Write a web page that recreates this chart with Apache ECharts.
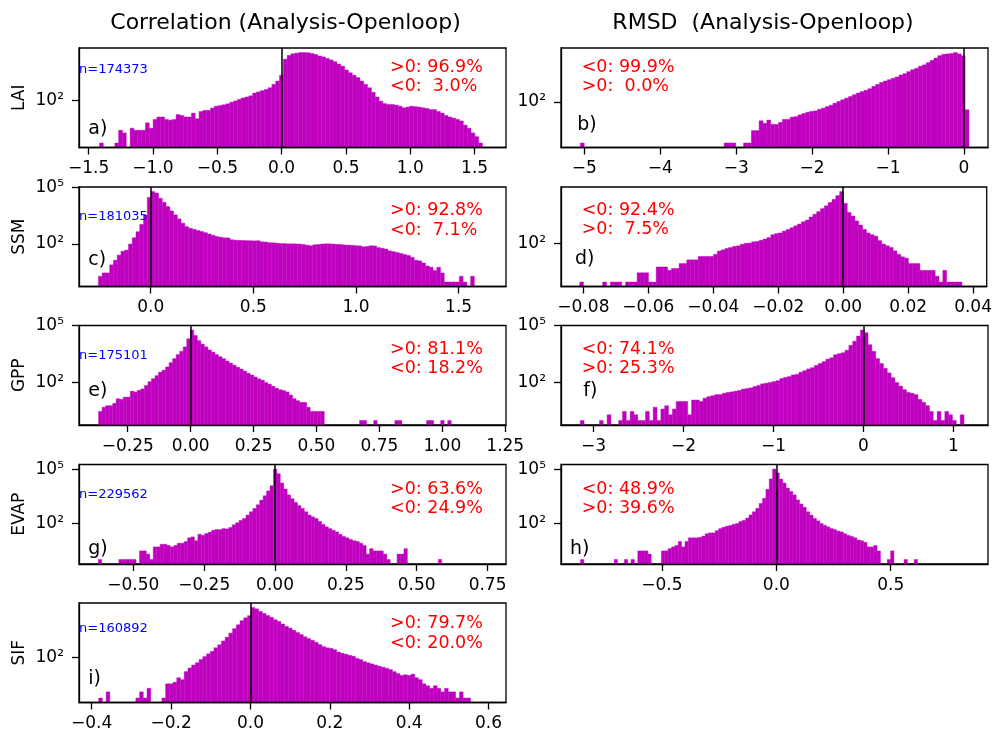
<!DOCTYPE html>
<html>
<head>
<meta charset="utf-8">
<script src="https://cdn.jsdelivr.net/npm/echarts@6/dist/echarts.min.js"></script>
<style>
html,body{margin:0;padding:0;background:#fff;}
#chart{width:995px;height:734px;}
</style>
</head>
<body>
<div id="chart"></div>
<script>
// ---------------- DATA (histogram counts, 100 bins per panel) ----------------
const laiCorrCounts = [1,0,0,0,1,4,3,0,5,4, 4,4,9,5,13,17,17,13,12,13, 22,20,17,17,26,14,31,35,35,45, 55,59,64,71,85,98,115,135,150,170,
  230,260,300,340,410,590,850,1590,9200,14000, 16500,17800,19000,19000,18500,17200,15500,13000,11800,10000,
  8500,7000,5400,4300,2850,2100,1600,1230,850,590, 410,250,150,95,73,66,66,62,55,46,
  50,55,52,50,46,43,38,38,31,26, 20,17,15,13,11,7,5,3,2,1];
const laiRmsdCounts = [1,0,0,0,0,0,0,0,0,0, 0,0,0,0,0,0,0,0,0,0, 0,0,0,0,0,0,0,0,0,0, 0,0,0,0,0,0,0,1,1,1,
  0,0,1,1,4,4,12,9,13,8, 8,10,14,14,18,19,23,27,31,34, 36,43,49,58,68,85,104,125,150,180,
  220,265,310,360,430,560,700,870,1020,1180, 1380,1600,2000,2300,2900,3600,4200,5300,6200,7900,
  10200,13300,17300,20000,21000,22000,24500,21000,17000,41];
const ssmCorrCounts = [2,3,3,8,14,26,42,48,100,215, 450,1100,3450,29000,59000,49000,26000,16000,9500,5600,
  3450,2130,1260,830,680,600,520,460,400,340, 290,250,230,215,210,170,160,158,155,152,
  150,148,150,132,128,118,117,112,107,106, 103,103,102,100,95,88,81,92,95,100,
  103,103,100,96,95,90,88,86,82,81, 72,75,81,80,65,60,55,44,40,36,
  32,28,25,20,14,13,10,7,6,4, 6,3,1,1,1,1,2,1,0,2];
const ssmRmsdCounts = [1,0,0,0,0,0,1,0,1,1, 1,0,1,1,1,3,3,3,1,1, 6,6,6,4,5,5,9,9,14,14,
  14,21,21,21,21,27,40,46,55,61, 70,74,90,100,103,120,126,145,167,200,
  280,320,345,430,520,640,800,1000,1300,1600, 2300,3200,4400,6300,8800,13000,19000,29500,48000,11700,
  4000,2600,1440,890,525,345,280,235,138,92, 75,61,41,27,20,17,9,9,9,4,
  4,4,4,2,1,4,1,1,1,1];
const gppCorrCounts = [3,5,6,6,8,14,13,17,17,35, 32,39,46,70,110,160,230,350,450,660,
  1120,1820,2950,4400,7500,20000,58000,30000,16000,10500, 7500,5200,4000,2950,2300,1800,1350,1050,820,640,
  510,400,310,250,195,155,132,100,82,64, 50,42,38,32,22,14,11,9,9,5,
  3,3,3,3,0,0,0,0,0,0, 0,0,0,0,1,1,0,0,1,0, 0,0,0,0,1,1,0,0,0,0, 0,0,0,1,1,0,0,1,0,1];
const gppRmsdCounts = [1,0,0,0,0,1,0,2,0,0, 1,3,1,3,2,1,1,3,1,5, 1,4,6,2,4,10,10,10,2,12,
  12,10,15,18,20,23,23,27,30,32, 35,38,45,48,52,62,70,85,92,100,
  112,125,162,185,205,250,270,350,420,520, 600,800,1000,1250,1700,2000,2900,3300,3700,5000,
  9100,15000,28000,58000,42000,9800,4400,1820,1000,560, 320,180,100,65,42,30,27,23,13,9,
  6,3,1,3,1,3,2,1,0,2];
const evapCorrCounts = [1,0,0,0,0,0,1,1,1,1, 1,0,3,3,2,1,5,5,7,7, 6,5,6,8,8,10,16,18,11,25,
  22,28,33,42,46,46,52,50,60,85, 110,150,190,295,450,690,1100,2000,3500,6500,
  12600,107000,59000,17800,8200,3900,2400,1500,1000,690, 450,295,235,190,130,90,65,52,42,34,
  25,19,16,13,11,10,8,6,2,4, 3,3,3,2,1,0,0,2,2,4, 0,0,0,0,0,0,0,0,0,1];
const evapRmsdCounts = [1,0,0,0,0,0,0,0,0,0, 1,0,0,1,0,1,0,3,3,3, 2,0,0,0,3,3,4,5,6,10,
  5,10,16,16,16,17,20,27,30,30, 40,52,62,71,78,91,100,130,150,200,
  300,450,700,1300,2500,8000,30000,107000,65000,29500, 17800,9300,6000,3900,2050,1220,800,450,295,190,
  141,100,80,65,52,46,38,34,27,22, 19,16,12,11,9,5,5,6,3,0, 0,1,3,0,0,0,1,0,0,1];
const sifCorrCounts = [1,0,2,0,0,0,0,0,0,0, 1,2,1,3,0,0,0,1,5,5, 6,10,8,20,30,42,55,80,110,150,
  200,300,420,650,1000,1590,2630,4100,6500,9000, 11500,29000,25000,18600,14800,11700,9500,7250,6000,4450,
  3400,2800,2200,1700,1350,1050,850,700,560,430, 340,300,280,240,185,162,145,128,115,90,
  78,62,54,48,42,37,33,29,25,20, 16,13,14,13,15,10,8,5,4,3, 4,3,2,3,2,2,1,2,1,1];

// bin definitions (left edge of the first bin and bin width), per panel a..i
const binStart = [-1.4158, -5.0526, -0.2552, -0.08113, -0.366, -3.148, -0.6238, -0.8559, -0.3824];
const binWidth = [0.02977, 0.05118, 0.01832, 0.001177, 0.014015, 0.04267, 0.01212, 0.01473, 0.009371];

// axis ranges and tick labels
const xMin = [-1.575, -5.307, -0.3496, -0.0869, -0.4437, -3.362, -0.6918, -0.941, -0.432];
const xMax = [1.744, 0.316, 1.731, 0.0442, 1.253, 1.386, 0.815, 0.925, 0.644];
const xTicksA = [-1.5, -1.0, -0.5, 0.0, 0.5, 1.0, 1.5];
const xTicksB = [-5, -4, -3, -2, -1, 0];
const xTicksC = [0.0, 0.5, 1.0, 1.5];
const xTicksD = [-0.08, -0.06, -0.04, -0.02, 0.0, 0.02, 0.04];
const xTicksE = [-0.25, 0.0, 0.25, 0.5, 0.75, 1.0, 1.25];
const xTicksF = [-3, -2, -1, 0, 1];
const xTicksG = [-0.5, -0.25, 0.0, 0.25, 0.5, 0.75];
const xTicksH = [-0.5, 0.0, 0.5];
const xTicksI = [-0.4, -0.2, 0.0, 0.2, 0.4, 0.6];
const xTickDecimals = [1, 0, 1, 2, 2, 0, 2, 1, 1];
const yTickValues = [100, 100000];

// texts
const columnTitles = ['Correlation (Analysis-Openloop)', 'RMSD  (Analysis-Openloop)'];
const rowNames = ['LAI', 'SSM', 'GPP', 'EVAP', 'SIF'];
const sampleSizes = ['n=174373', 'n=181035', 'n=175101', 'n=229562', 'n=160892'];
const statLines = [
  ['>0: 96.9%', '<0:  3.0%'], ['<0: 99.9%', '>0:  0.0%'],
  ['>0: 92.8%', '<0:  7.1%'], ['<0: 92.4%', '>0:  7.5%'],
  ['>0: 81.1%', '<0: 18.2%'], ['<0: 74.1%', '>0: 25.3%'],
  ['>0: 63.6%', '<0: 24.9%'], ['<0: 48.9%', '>0: 39.6%'],
  ['>0: 79.7%', '<0: 20.0%']
];
const panelLetters = ['a)', 'b)', 'c)', 'd)', 'e)', 'f)', 'g)', 'h)', 'i)'];

// ---------------- LAYOUT / STYLE ----------------
const allCounts = [laiCorrCounts, laiRmsdCounts, ssmCorrCounts, ssmRmsdCounts, gppCorrCounts, gppRmsdCounts, evapCorrCounts, evapRmsdCounts, sifCorrCounts];
const allTicks = [xTicksA, xTicksB, xTicksC, xTicksD, xTicksE, xTicksF, xTicksG, xTicksH, xTicksI];
const colLeft = [79, 561];
const gridW = 427;
const rowTop = [48, 187, 325.5, 464.5, 603];
const gridH = 99.5;
const FONT = 'DejaVu Sans';
const BAR = '#bf00bf';
const statPos = [[390, 67, 86.7], [581.7, 67.5, 86.7], [390, 210.5, 230], [581.7, 210, 229.5],
  [390, 349.5, 368.7], [581.7, 349.5, 368.3], [390, 489.2, 508.8], [581.7, 489.2, 508.8], [390, 623.5, 643]];
const nPosY = [70, 216.7, 355.3, 495, 628.5];
const letterPos = [[88.3, 129.5], [577.3, 125], [88.3, 260], [575, 259.2], [88.3, 391.2],
  [583.3, 391.2], [88.3, 548.8], [570, 549.2], [88.3, 678.8]];

const supDigits = {'0':'⁰','1':'¹','2':'²','3':'³','4':'⁴','5':'⁵','6':'⁶','7':'⁷','8':'⁸','9':'⁹'};
function supLabel(v) {
  const e = String(Math.round(Math.log10(v)));
  return '10' + e.split('').map(d => supDigits[d]).join('');
}
function fmtX(v, dec) {
  const s = Math.abs(v).toFixed(dec);
  return (v < 0 ? '\u2212' : '') + s;
}

const grids = [], xAxes = [], yAxes = [], series = [], graphics = [];
allCounts.forEach((counts, k) => {
  const col = k % 2, row = Math.floor(k / 2);
  grids.push({left: colLeft[col], top: rowTop[row], width: gridW, height: gridH,
    show: true, borderColor: '#000', borderWidth: 1.3, backgroundColor: 'rgba(0,0,0,0)', z: 0});
  const maxC = Math.max.apply(null, counts);
  const lm = Math.log10(maxC);
  const yMin = Math.pow(10, -0.05 * lm);
  const yMax = Math.pow(10, 1.05 * lm);
  const yT = yTickValues.filter(v => v >= yMin && v <= yMax);
  const tickStyle = {color: '#000', width: 1.3};
  xAxes.push({type: 'value', gridIndex: k, min: xMin[k], max: xMax[k], z: 10,
    splitLine: {show: false},
    axisLine: {show: true, onZero: false, lineStyle: tickStyle},
    axisTick: {show: true, length: 7, lineStyle: tickStyle, customValues: allTicks[k]},
    axisLabel: {customValues: allTicks[k], formatter: v => fmtX(v, xTickDecimals[k]),
      fontSize: 17, fontFamily: FONT, color: '#000', margin: 13}});
  yAxes.push({type: 'log', logBase: 10, gridIndex: k, min: yMin, max: yMax, z: 10,
    splitLine: {show: false}, minorTick: {show: false},
    axisLine: {show: true, onZero: false, lineStyle: tickStyle},
    axisTick: {show: true, length: 7, lineStyle: tickStyle, customValues: yT},
    axisLabel: {customValues: yT, formatter: v => supLabel(v), fontSize: 17, fontFamily: FONT, color: '#000', margin: 15}});
  const items = [];
  counts.forEach((c, i) => {
    if (c > 0) items.push([binStart[k] + i * binWidth[k], binStart[k] + (i + 1) * binWidth[k], c]);
  });
  series.push({type: 'custom', xAxisIndex: k, yAxisIndex: k, data: items, encode: {x: [0, 1], y: 2},
    renderItem: function (params, api) {
      const p0 = api.coord([api.value(0), api.value(2)]);
      const p1 = api.coord([api.value(1), api.value(2)]);
      const cs = params.coordSys;
      const bottom = cs.y + cs.height;
      return {type: 'rect', shape: {x: p0[0], y: p0[1], width: p1[0] - p0[0], height: bottom - p0[1]},
        style: {fill: BAR, stroke: BAR, lineWidth: 0.4}};
    },
    markLine: {silent: true, symbol: ['none', 'none'], label: {show: false}, animation: false,
      lineStyle: {color: '#000', width: 1.5, type: 'solid'}, data: [{xAxis: 0}]}
  });
  // stats text
  graphics.push({type: 'text', x: statPos[k][0], y: statPos[k][1], z: 100,
    style: {text: statLines[k][0], fill: '#ff0000', font: '17.5px "DejaVu Sans"', textAlign: 'left', textVerticalAlign: 'middle'}});
  graphics.push({type: 'text', x: statPos[k][0], y: statPos[k][2], z: 100,
    style: {text: statLines[k][1], fill: '#ff0000', font: '17.5px "DejaVu Sans"', textAlign: 'left', textVerticalAlign: 'middle'}});
  graphics.push({type: 'text', x: letterPos[k][0], y: letterPos[k][1], z: 100,
    style: {text: panelLetters[k], fill: '#000', font: '19px "DejaVu Sans"', textAlign: 'left', textVerticalAlign: 'middle'}});
  if (col === 0) {
    graphics.push({type: 'text', x: 79, y: nPosY[row], z: 100,
      style: {text: sampleSizes[row], fill: '#0000ff', font: '13px "DejaVu Sans"', textAlign: 'left', textVerticalAlign: 'middle'}});
    graphics.push({type: 'text', x: 20, y: rowTop[row] + gridH / 2, rotation: Math.PI / 2, z: 100,
      style: {text: rowNames[row], fill: '#000', font: '17px "DejaVu Sans"', textAlign: 'center', textVerticalAlign: 'middle'}});
  }
});
graphics.push({type: 'text', x: 285.5, y: 23, z: 100,
  style: {text: columnTitles[0], fill: '#000', font: '22px "DejaVu Sans"', textAlign: 'center', textVerticalAlign: 'middle'}});
graphics.push({type: 'text', x: 763, y: 23, z: 100,
  style: {text: columnTitles[1], fill: '#000', font: '22px "DejaVu Sans"', textAlign: 'center', textVerticalAlign: 'middle'}});

const chart = echarts.init(document.getElementById('chart'), null, {renderer: 'canvas'});
chart.setOption({
  animation: false,
  backgroundColor: '#fff',
  grid: grids,
  xAxis: xAxes,
  yAxis: yAxes,
  series: series,
  graphic: graphics
});
</script>
</body>
</html>
